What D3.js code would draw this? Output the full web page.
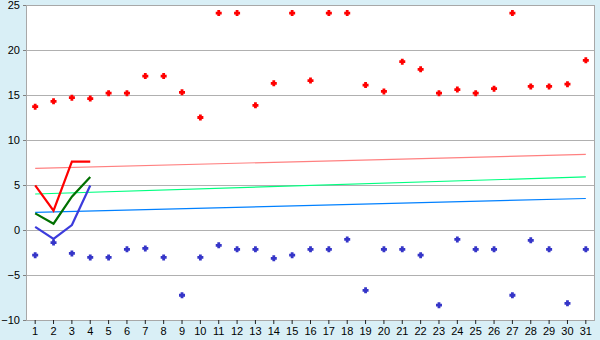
<!DOCTYPE html>
<html>
<head>
<meta charset="utf-8">
<script src="https://cdn.jsdelivr.net/npm/d3@7"></script>
<style>
  body { margin: 0; background: #d9eff6; }
  svg { display: block; }
</style>
</head>
<body>
<svg id="chart" width="600" height="340"></svg>
<script>
// days on the x axis
var days = d3.range(1, 32);
var yTicks = [-10, -5, 0, 5, 10, 15, 20, 25];

// scatter series
var redPoints = [13.7, 14.3, 14.7, 14.6, 15.2, 15.2, 17.1, 17.1, 15.3, 12.5,
  24.1, 24.1, 13.85, 16.3, 24.1, 16.6, 24.1, 24.1, 16.1, 15.4,
  18.7, 17.85, 15.2, 15.6, 15.2, 15.7, 24.1, 15.95, 15.95, 16.2, 18.85];
var bluePoints = [-2.8, -1.4, -2.6, -3.05, -3.05, -2.15, -2.05, -3.05, -7.25, -3.05,
  -1.7, -2.15, -2.15, -3.15, -2.8, -2.15, -2.15, -1.05, -6.7, -2.15,
  -2.15, -2.8, -8.35, -1.05, -2.15, -2.15, -7.25, -1.15, -2.15, -8.15, -2.15];

// short thick lines, days 1-4
var redLine = [4.95, 2.15, 7.6, 7.6];
var greenLine = [1.85, 0.7, 3.7, 5.9];
var blueLine = [0.35, -1.0, 0.55, 4.95];

// thin trend lines, value at day 1 and day 31
var trendDays = [1, 31];
var pinkTrend = [6.85, 8.4];
var lightGreenTrend = [4.0, 5.9];
var lightBlueTrend = [1.95, 3.5];

var svg = d3.select("#chart");
var margin = { top: 5, right: 5, bottom: 20, left: 26 },
  width = 600 - margin.left - margin.right,
  height = 340 - margin.top - margin.bottom;

var x = d3.scaleBand().domain(days).range([0, width]);
var y = d3.scaleLinear().domain([-10, 25]).range([height, 0]);
function cx(d) { return x(d) + x.bandwidth() / 2; }

var g = svg.append("g")
  .attr("transform", "translate(" + margin.left + "," + margin.top + ")");

// plot area
g.append("rect")
  .attr("x", 0).attr("y", 0)
  .attr("width", width).attr("height", height)
  .attr("fill", "white");

// gridlines
g.append("g")
  .selectAll("line")
  .data(yTicks.slice(1, -1))
  .enter()
  .append("line")
  .attr("x1", 0).attr("x2", width)
  .attr("y1", function (d) { return Math.round(y(d)) + 0.5; })
  .attr("y2", function (d) { return Math.round(y(d)) + 0.5; })
  .attr("stroke", "#b0b0b0");

g.append("rect")
  .attr("x", 0.5).attr("y", 0.5)
  .attr("width", width - 1).attr("height", height)
  .attr("fill", "none")
  .attr("stroke", "#a8a8a8");

// y axis
var yAxis = g.append("g")
  .call(d3.axisLeft(y).tickValues(yTicks).tickSize(3).tickPadding(3));
yAxis.select(".domain").attr("stroke", "#a8a8a8");
yAxis.selectAll(".tick line").attr("stroke", "#808080");
yAxis.selectAll(".tick text")
  .style("font-family", "Liberation Sans, Arial, sans-serif")
  .style("font-size", "11px")
  .attr("fill", "black");

// x axis
var xAxis = g.append("g")
  .attr("transform", "translate(0," + height + ")")
  .call(d3.axisBottom(x).tickSize(4).tickPadding(3));
xAxis.select(".domain").remove();
xAxis.selectAll(".tick line").attr("stroke", "#202020");
xAxis.selectAll(".tick text")
  .style("font-family", "Liberation Sans, Arial, sans-serif")
  .style("font-size", "11px")
  .attr("fill", "black");

// thin trend lines
var trendLine = d3.line()
  .x(function (d, i) { return cx(trendDays[i]); })
  .y(function (d) { return y(d); });
[[pinkTrend, "#ff8080"], [lightGreenTrend, "#00ff80"], [lightBlueTrend, "#0080ff"]]
  .forEach(function (s) {
    g.append("path")
      .datum(s[0])
      .attr("fill", "none")
      .attr("stroke", s[1])
      .attr("stroke-width", 1.2)
      .attr("d", trendLine);
  });

// thick lines
var shortLine = d3.line()
  .x(function (d, i) { return cx(days[i]); })
  .y(function (d) { return y(d); });
[[redLine, "#ff0000"], [greenLine, "#007000"], [blueLine, "#3c3cdc"]]
  .forEach(function (s) {
    g.append("path")
      .datum(s[0])
      .attr("fill", "none")
      .attr("stroke", s[1])
      .attr("stroke-width", 2.2)
      .attr("d", shortLine);
  });

// fat plus marker
var fatPlus = {
  draw: function (ctx, size) {
    var a = 3, b = 1.4;
    ctx.moveTo(-b, -a); ctx.lineTo(b, -a); ctx.lineTo(b, -b);
    ctx.lineTo(a, -b); ctx.lineTo(a, b); ctx.lineTo(b, b);
    ctx.lineTo(b, a); ctx.lineTo(-b, a); ctx.lineTo(-b, b);
    ctx.lineTo(-a, b); ctx.lineTo(-a, -b); ctx.lineTo(-b, -b);
    ctx.closePath();
  }
};
var marker = d3.symbol().type(fatPlus);
[[redPoints, "#ff0000"], [bluePoints, "#3535c8"]].forEach(function (s) {
  g.append("g")
    .selectAll("path")
    .data(s[0])
    .enter()
    .append("path")
    .attr("d", marker)
    .attr("transform", function (d, i) {
      return "translate(" + cx(days[i]) + "," + y(d) + ")";
    })
    .attr("fill", s[1]);
});
</script>
</body>
</html>
